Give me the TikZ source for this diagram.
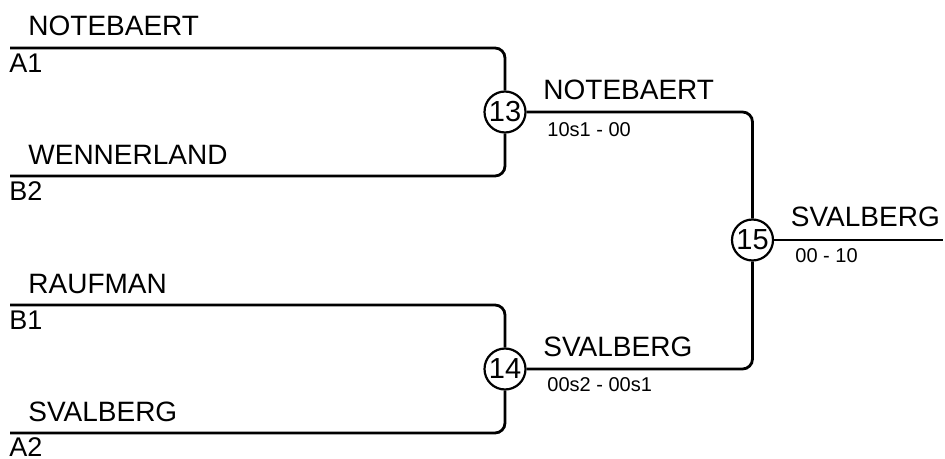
\documentclass[tikz,border=0pt]{standalone}
\usepackage{fontspec}
\setmainfont{Liberation Sans}
\tikzset{
x=0.5pt, y=-0.5pt, % one unit is one pixel of the bracket
wire/.style={line width=1.4pt, rounded corners=5pt}, % the bracket lines
match/.style={circle, draw, line width=1.1pt, minimum size=20.5pt, inner sep=0pt, fill=white, font=\fontsize{14.5}{16}\selectfont}, % numbered match circles
player/.style={anchor=base west, inner sep=0pt, font=\fontsize{14}{16}\selectfont}, % names above the lines
slot/.style={anchor=base west, inner sep=0pt, font=\fontsize{13.5}{16}\selectfont}, % seeds below the lines
score/.style={anchor=base west, inner sep=0pt, font=\fontsize{10}{12}\selectfont}, % set scores
}
\begin{document}
\begin{tikzpicture}
                \useasboundingbox (0,0) rectangle (945,459);

                \node[match] (m13) at (505,112) {13};
                \node[match] (m14) at (505,369) {14};
                \node[match] (m15) at (752.5,240) {15};

                \coordinate (a1) at (10,48);
                \coordinate (b2) at (10,176);
                \coordinate (b1) at (10,305);
                \coordinate (a2) at (10,433);
                \coordinate (win) at (943,240);

                \draw[wire] (a1) -| (m13);
                \draw[wire] (b2) -| (m13);
                \draw[wire] (b1) -| (m14);
                \draw[wire] (a2) -| (m14);
                \draw[wire] (m13) -| (m15);
                \draw[wire] (m14) -| (m15);
                \draw[wire] (m15) -- (win);

                \node[player] (pA1) at (28,36) {NOTEBAERT};
                \node[player] (pB2) at (28,165) {WENNERLAND};
                \node[player] (pB1) at (28,293) {RAUFMAN};
                \node[player] (pA2) at (28,421) {SVALBERG};
                \node[slot] (sA1) at (9,73) {A1};
                \node[slot] (sB2) at (9,201) {B2};
                \node[slot] (sB1) at (9,329) {B1};
                \node[slot] (sA2) at (9,456) {A2};

                \node[player] (w13) at (543,100) {NOTEBAERT};
                \node[score] (r13) at (547,137) {10s1 - 00};
                \node[player] (w14) at (543,356) {SVALBERG};
                \node[score] (r14) at (547,391) {00s2 - 00s1};
                \node[player] (w15) at (790.5,227) {SVALBERG};
                \node[score] (r15) at (795,263) {00 - 10};
            \end{tikzpicture}
\end{document}
